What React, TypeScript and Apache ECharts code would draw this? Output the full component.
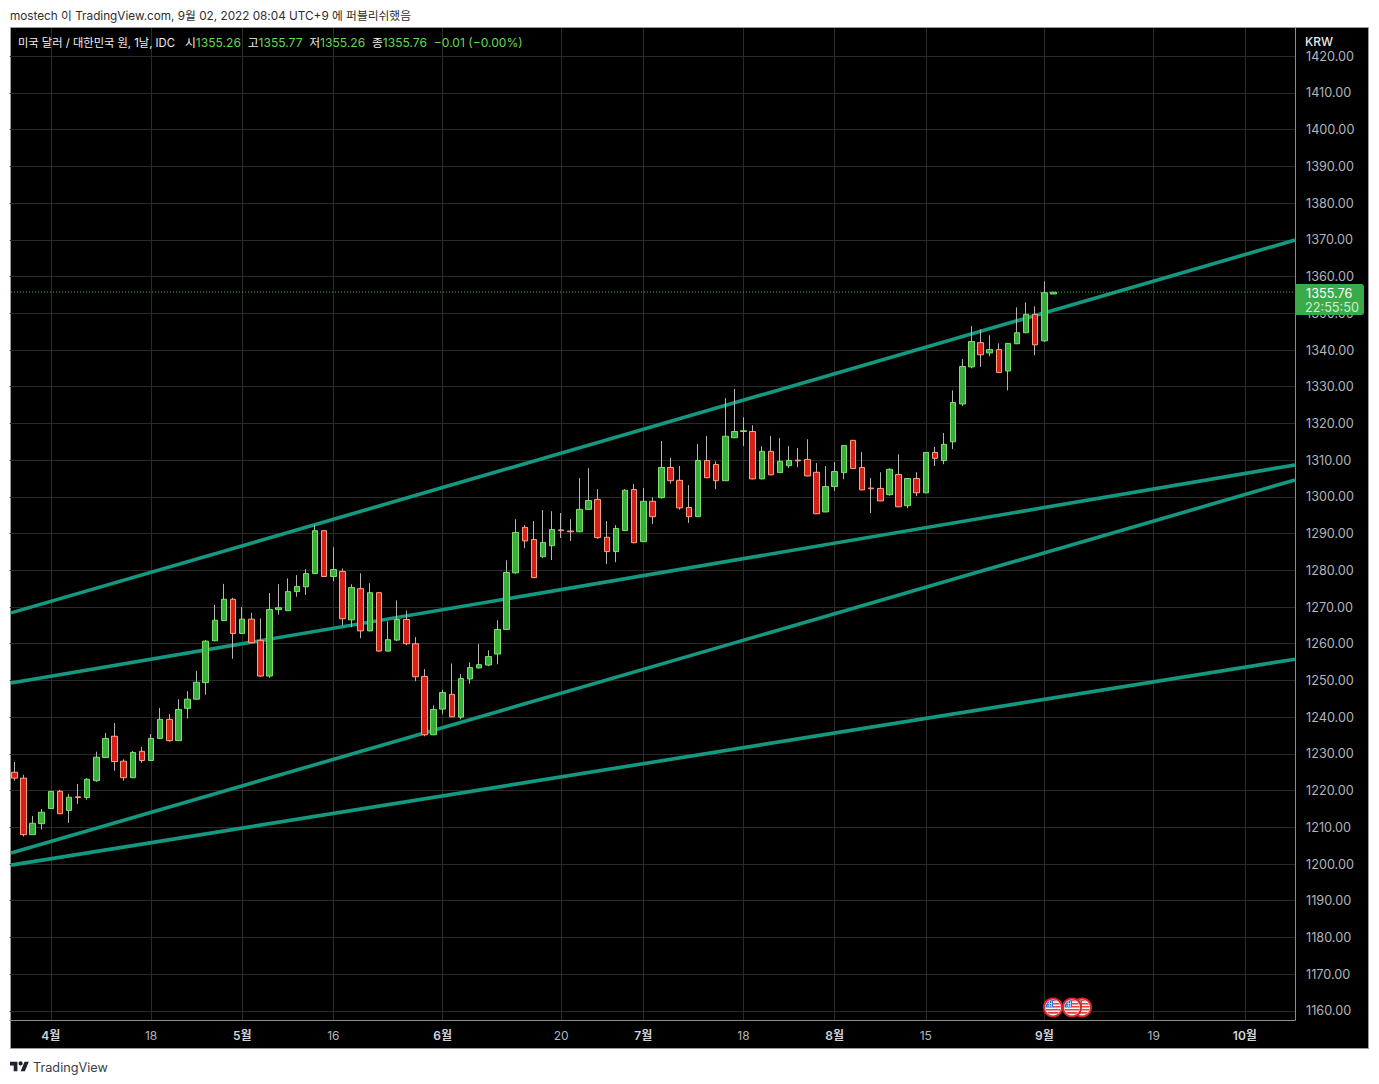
import React, { useEffect, useRef } from "react";
import * as echarts from "echarts";

const FONT = 'Inter, "Noto Sans CJK KR", "Noto Sans", sans-serif';

const opens = [1225.0,1223.4,1208.0,1211.0,1215.1,1219.8,1214.6,1218.3,1218.1,1222.7,1229.0,1234.8,1228.0,1223.5,1230.7,1228.2,1234.2,1239.4,1233.6,1242.4,1244.9,1249.4,1260.8,1266.3,1272.1,1262.8,1266.7,1260.9,1251.2,1269.3,1269.0,1274.2,1275.5,1279.1,1290.8,1278.3,1279.7,1266.5,1275.0,1263.5,1273.9,1258.0,1261.0,1266.6,1260.0,1251.1,1235.2,1242.2,1246.2,1240.0,1250.4,1253.4,1254.2,1257.2,1263.9,1279.3,1291.7,1288.4,1283.7,1286.7,1291.0,1290.7,1290.5,1296.6,1299.3,1289.0,1285.1,1290.8,1302.0,1287.8,1298.8,1299.8,1308.0,1304.5,1297.1,1294.6,1309.9,1308.8,1304.4,1316.1,1317.8,1317.8,1304.9,1312.4,1306.6,1308.5,1310.0,1310.2,1306.7,1295.9,1302.8,1306.6,1315.4,1308.0,1302.4,1302.3,1300.6,1306.1,1297.6,1305.0,1301.1,1312.1,1309.9,1315.0,1325.3,1335.4,1342.0,1339.2,1340.1,1334.3,1341.7,1344.7,1349.7,1342.5,1355.26];
const closes = [1223.4,1208.0,1211.1,1214.1,1219.8,1213.7,1218.2,1218.1,1223.1,1229.1,1234.2,1227.9,1223.5,1230.4,1228.2,1234.2,1239.4,1233.6,1242.1,1244.9,1249.5,1260.7,1266.4,1272.1,1262.8,1266.7,1260.3,1251.2,1269.3,1269.8,1274.2,1275.6,1279.1,1290.8,1278.3,1280.2,1266.8,1275.3,1263.5,1273.9,1258.0,1261.1,1266.6,1260.0,1251.0,1235.2,1242.1,1246.7,1240.1,1250.5,1253.5,1254.3,1256.5,1263.9,1279.4,1290.3,1288.0,1278.0,1287.6,1291.1,1290.8,1290.5,1296.6,1299.0,1288.9,1285.1,1291.4,1301.8,1287.5,1298.8,1294.6,1308.0,1304.4,1297.0,1294.6,1309.9,1305.2,1304.4,1316.5,1317.8,1318.0,1304.9,1312.4,1306.0,1309.7,1309.9,1309.8,1305.7,1295.4,1302.8,1306.9,1314.0,1307.7,1301.9,1302.2,1298.9,1307.5,1297.3,1305.0,1301.1,1312.1,1310.5,1314.3,1325.7,1335.5,1342.3,1338.7,1340.1,1333.9,1341.8,1344.7,1349.7,1341.4,1355.6,1355.76];
const lows = [1222.7,1207.5,1208.0,1209.4,1215.0,1213.6,1211.2,1216.4,1217.5,1222.4,1229.0,1225.4,1222.7,1223.4,1227.6,1228.1,1234.0,1233.3,1233.5,1239.6,1244.8,1246.1,1260.7,1266.2,1255.9,1262.7,1260.2,1251.0,1250.7,1267.9,1268.9,1272.8,1273.3,1279.0,1278.2,1277.0,1265.0,1264.5,1261.5,1263.4,1257.9,1257.9,1260.7,1259.6,1249.8,1234.8,1235.1,1240.8,1240.0,1239.4,1249.1,1253.3,1253.9,1254.4,1263.8,1279.1,1286.0,1277.9,1283.3,1282.8,1288.8,1288.0,1290.4,1296.5,1288.6,1281.7,1282.2,1290.7,1287.4,1287.7,1292.6,1299.5,1303.6,1296.5,1292.9,1294.5,1305.1,1302.1,1304.3,1316.0,1313.8,1304.8,1304.8,1305.9,1306.5,1307.9,1308.1,1305.6,1295.3,1295.8,1301.6,1304.8,1307.6,1301.8,1295.6,1298.8,1300.3,1297.2,1296.9,1300.2,1301.0,1308.4,1308.9,1313.0,1324.7,1335.0,1335.4,1338.3,1333.8,1329.0,1341.6,1344.6,1338.6,1342.2,1355.26];
const highs = [1227.8,1224.3,1213.1,1215.0,1219.9,1220.2,1219.1,1221.8,1223.4,1230.6,1235.7,1238.4,1228.5,1230.8,1231.9,1235.4,1242.5,1240.9,1244.9,1247.1,1252.6,1261.0,1270.6,1276.3,1272.5,1270.0,1268.4,1266.9,1273.8,1276.2,1277.8,1278.7,1280.3,1292.3,1290.9,1286.3,1280.5,1276.2,1279.2,1276.5,1274.0,1266.1,1271.8,1269.0,1261.8,1253.1,1243.2,1247.5,1254.6,1251.7,1254.9,1259.9,1258.2,1266.4,1282.7,1293.9,1292.3,1293.4,1296.4,1296.1,1295.6,1293.9,1305.1,1307.8,1302.1,1293.4,1292.3,1302.1,1303.5,1302.4,1299.9,1315.2,1310.6,1308.4,1303.2,1314.4,1316.6,1309.7,1326.9,1329.4,1321.7,1319.5,1313.8,1316.6,1316.0,1313.8,1313.3,1315.7,1309.2,1308.4,1309.5,1314.1,1315.5,1312.2,1305.1,1306.7,1307.8,1311.6,1305.1,1306.7,1312.2,1313.6,1317.4,1329.0,1337.5,1346.5,1345.6,1344.0,1341.8,1341.9,1351.6,1353.0,1351.9,1358.7,1355.77];

const tickSlots = [4, 15, 25, 35, 47, 60, 69, 80, 90, 100, 113, 125, 135];
const tickLabels = ["4월", "18", "5월", "16", "6월", "20", "7월", "18", "8월", "15", "9월", "19", "10월"];
const slotCount = 141;
const priceTicks = [1160,1170,1180,1190,1200,1210,1220,1230,1240,1250,1260,1270,1280,1290,1300,1310,1320,1330,1340,1350,1360,1370,1380,1390,1400,1410,1420];

const lineStartSlot = -0.36;
const lineEndSlot = 140.5;
const trendTop = [1268.4, 1369.95];
const trendUpperMid = [1249.3, 1308.7];
const trendLowerMid = [1203.0, 1304.6];
const trendBottom = [1199.7, 1255.8];
const lastPrice = 1355.76;

const categories = Array.from({ length: slotCount }, (_, i) => {
  const k = tickSlots.indexOf(i);
  return k >= 0 ? tickLabels[k] : "";
});

const FLAG_BLUE = "M0 -7.6A7.6 7.6 0 0 0 -7.6 0L0 0Z";
const FLAG_RED = "M0 -7.6A7.6 7.6 0 0 1 4.2 -6.3L0 -6.3ZM0 -4.6L6.1 -4.6L7 -3L0 -3ZM0 -1.5L7.6 -1.5L7.6 0L0 0ZM-7.5 1.5L7.5 1.5L7 3L-7 3ZM-6 4.6L6 4.6L4.3 6.2L-4.3 6.2Z";
const FLAG_DOTS = "M-5.2 -4.2h4.4v0.7h-4.4ZM-6 -2h5.2v0.7h-5.2ZM-4 -6.2h0.7v5.6h-0.7ZM-2 -6.6h0.7v6h-0.7Z";
const TV_LOGO = "M14 22H7V11H0V4h14v18ZM28 22h-8l7.5-18h8L28 22ZM24 7a4 4 0 1 1-8 0a4 4 0 0 1 8 0Z";

echarts.graphic.registerShape("flagBlue", echarts.graphic.extendPath(FLAG_BLUE, {}));
echarts.graphic.registerShape("flagRed", echarts.graphic.extendPath(FLAG_RED, {}));
echarts.graphic.registerShape("flagDots", echarts.graphic.extendPath(FLAG_DOTS, {}));
echarts.graphic.registerShape("tvLogo", echarts.graphic.extendPath(TV_LOGO, {}));

function flagIcon(x: number, y: number, z: number) {
  return {
    type: "group",
    x,
    y,
    z,
    children: [
      { type: "circle", shape: { cx: 0, cy: 0, r: 9 }, style: { fill: "#f4f4f4", stroke: "#e0202a", lineWidth: 2 }, z },
      { type: "flagBlue", x: 0, y: 0, style: { fill: "#2f6fd6" }, z },
      { type: "flagRed", x: 0, y: 0, style: { fill: "#e4433f" }, z },
      { type: "flagDots", x: 0, y: 0, style: { fill: "#cfe0f8" }, z },
    ],
  };
}

function trend(ends: number[], name: string) {
  return {
    type: "line",
    name,
    xAxisIndex: 1,
    yAxisIndex: 0,
    data: [
      [lineStartSlot, ends[0]],
      [lineEndSlot, ends[1]],
    ],
    symbol: "none",
    z: 1,
    silent: true,
    clip: true,
    lineStyle: { color: "#14987f", width: 3.6 },
  };
}

export default function App() {
  const ref = useRef<HTMLDivElement>(null);
  useEffect(() => {
    document.body.style.margin = "0";
    const chart = echarts.init(ref.current!, undefined, { renderer: "svg" });
    const ohlc = opens.map((o, i) => [o, closes[i], lows[i], highs[i]]);
    const bodies = opens.map((o, i) => [o, closes[i], Math.min(o, closes[i]), Math.max(o, closes[i])]);
    chart.setOption({
      animation: false,
      backgroundColor: "#ffffff",
      textStyle: { fontFamily: FONT },
      grid: { left: 9.75, top: 28, width: 1285.25, height: 992, containLabel: false },
      xAxis: [
        {
          type: "category",
          data: categories,
          boundaryGap: true,
          axisLine: { show: true, onZero: false, lineStyle: { color: "#8c8c8c", width: 1 } },
          axisTick: { show: false },
          splitLine: {
            show: true,
            alignWithLabel: true,
            interval: (_: number, v: string) => v !== "",
            lineStyle: { color: "#2a2a2a", width: 1 },
          },
          axisLabel: {
            show: true,
            interval: (_: number, v: string) => v !== "",
            margin: 9,
            fontFamily: FONT,
            fontSize: 12,
            color: "#b2b5be",
            formatter: (v: string) => (v.endsWith("월") ? `{m|${v}}` : v),
            rich: { m: { fontFamily: FONT, fontSize: 12, fontWeight: 600, color: "#d1d4dc" } },
          },
        },
        { type: "value", min: -0.5, max: 140.5, show: false, splitLine: { show: false } },
      ],
      yAxis: {
        type: "value",
        position: "right",
        min: 1157.52,
        max: 1427.7,
        scale: true,
        axisLine: { show: true, onZero: false, lineStyle: { color: "#8c8c8c", width: 1 } },
        axisTick: { show: false, customValues: priceTicks },
        splitLine: { show: true, lineStyle: { color: "#2a2a2a", width: 1 } },
        axisLabel: {
          customValues: priceTicks,
          margin: 11,
          padding: [0, 0, 1.5, 0],
          fontFamily: FONT,
          fontSize: 12.7,
          color: "#b2b5be",
          formatter: (v: number) => v.toFixed(2),
        },
      },
      series: [
        trend(trendTop, "channel top"),
        trend(trendUpperMid, "upper mid"),
        trend(trendLowerMid, "lower mid"),
        trend(trendBottom, "bottom"),
        {
          type: "line",
          name: "last price",
          xAxisIndex: 1,
          yAxisIndex: 0,
          data: [
            [lineStartSlot, lastPrice],
            [lineEndSlot, lastPrice],
          ],
          symbol: "none",
          z: 1,
          silent: true,
          lineStyle: { color: "#3fbf3f", width: 1, type: [1, 2] },
        },
        {
          type: "candlestick",
          name: "wicks",
          data: ohlc,
          z: 2,
          barWidth: 0.01,
          silent: true,
          itemStyle: { color: "#b4b4b4", color0: "#b4b4b4", borderColor: "#b4b4b4", borderColor0: "#b4b4b4", borderColorDoji: "#b4b4b4", borderWidth: 1 },
        },
        {
          type: "candlestick",
          name: "USD/KRW",
          data: bodies,
          z: 3,
          barWidth: 6,
          silent: true,
          itemStyle: { color: "#39ac40", color0: "#d8201a", borderColor: "#7fe06a", borderColor0: "#ffa37f", borderColorDoji: "#ffa37f", borderWidth: 1 },
        },
      ],
      graphic: [
        { type: "rect", z: -1, shape: { x: 10.5, y: 27.5, width: 1358, height: 1021 }, style: { fill: "#000000", stroke: "#9a9a9a", lineWidth: 1 } },
        { type: "text", z: 5, x: 10, y: 15.5, style: { text: "mostech 이 TradingView.com, 9월 02, 2022 08:04 UTC+9 에 퍼블리쉬했음", fill: "#2e2e2e", font: `11.76px ${FONT}`, verticalAlign: "middle" } },
        {
          type: "text",
          z: 5,
          x: 18,
          y: 42.5,
          style: {
            text: "{n|미국 달러 / 대한민국 원, 1날, IDC}{w|   시}{g|1355.26}{w|  고}{g|1355.77}{w|  저}{g|1355.26}{w|  종}{g|1355.76}{g|  −0.01 (−0.00%)}",
            font: `12px ${FONT}`,
            verticalAlign: "middle",
            rich: {
              n: { fill: "#f0f0f0", font: `11.25px ${FONT}` },
              w: { fill: "#f0f0f0", font: `11.85px ${FONT}` },
              g: { fill: "#5fdc52", font: `12.1px ${FONT}` },
            },
          },
        },
        { type: "text", z: 5, x: 1305, y: 41, style: { text: "KRW", fill: "#e8e8e8", font: `500 12px ${FONT}`, verticalAlign: "middle" } },
        { type: "rect", z: 6, shape: { x: 1295, y: 284, width: 69, height: 31, r: [0, 3, 3, 0] }, style: { fill: "#3bab4a" } },
        { type: "text", z: 7, x: 1306, y: 293, style: { text: "1355.76", fill: "#ffffff", font: `12.7px ${FONT}`, verticalAlign: "middle" } },
        { type: "text", z: 7, x: 1305, y: 307, style: { text: "22:55:50", fill: "#cdeed2", font: `12.7px ${FONT}`, verticalAlign: "middle" } },
        flagIcon(1082, 1007.5, 8),
        flagIcon(1072, 1007.5, 9),
        flagIcon(1053, 1007.5, 10),
        { type: "tvLogo", z: 5, x: 10, y: 1059.7, scaleX: 0.53, scaleY: 0.53, style: { fill: "#1e222d" } },
        { type: "text", z: 5, x: 33, y: 1067.5, style: { text: "TradingView", fill: "#3a3d45", font: `12.7px ${FONT}`, verticalAlign: "middle" } },
      ],
    });
    return () => chart.dispose();
  }, []);
  return <div ref={ref} style={{ position: "absolute", left: 0, top: 0, width: 1379, height: 1084 }} />;
}
